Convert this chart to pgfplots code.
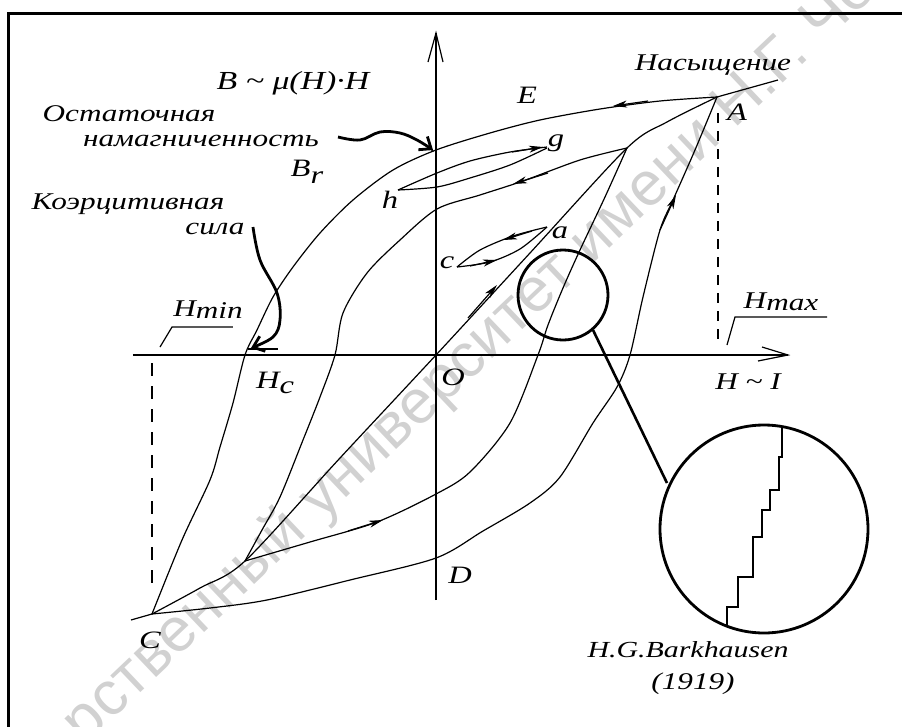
\documentclass[border=0pt]{standalone}
\usepackage{pgfplots}
\pgfplotsset{compat=1.18}
\usepackage{fontspec}
\setmainfont{Liberation Serif}[FakeStretch=1.3]
\newfontfamily\wmfont{Liberation Sans}
\usetikzlibrary{arrows.meta}
\newcommand{\lf}[1]{\fontsize{#1}{#1}\selectfont\itshape}

\begin{document}
\begin{tikzpicture}
\begin{axis}[
  at={(0,0)}, anchor=south west,
  scale only axis, width=902pt, height=727pt,
  xmin=0, xmax=902, ymin=0, ymax=727, y dir=reverse,
  axis lines=none, clip=false,
  curve/.style={black, line width=1.2pt, smooth, tension=0.5, no marks},
  seg/.style={black, line width=1.2pt, no marks},
  fat/.style={black, line width=2.8pt, no marks},
  dir/.style={black, line width=1.2pt, no marks, -{Stealth[length=14pt,width=7pt,inset=4pt]}},
]
% background watermark
\node[rotate=43.5, anchor=base east, inner sep=0pt, text=black!18,
      font=\wmfont\fontsize{62}{62}\selectfont] at (axis cs:110,722) {Саратовский государ};
\node[rotate=43.5, anchor=base west, inner sep=0pt, text=black!18,
      font=\wmfont\fontsize{62}{62}\selectfont] at (axis cs:110,722) {ственный университет имени Н.Г. Чернышевского};

% frame
\addplot[black, line width=3pt, no marks] coordinates {(9,727) (9,13) (902,13)};

% coordinate axes
\addplot[seg, line width=1.5pt] coordinates {(436,600) (436,33)};
\addplot[seg] coordinates {(428,62) (436,33) (443,62)};
\addplot[seg, line width=1.5pt] coordinates {(133,355) (788,355)};
\addplot[seg] coordinates {(762,347) (788,355) (758,361)};

% dashed limits
\addplot[black, line width=1.5pt, dash pattern=on 10pt off 8pt, no marks] coordinates {(718,113) (718,345)};
\addplot[black, line width=1.5pt, dash pattern=on 13pt off 10pt, no marks] coordinates {(152,363) (152,592)};

% major loop, descending branch A -> C
\addplot[curve] coordinates {(717,97) (660,101) (600,109) (540,120) (490,133) (436,150)
  (393,170) (353,200) (320,233) (293,267) (273,297) (257,330) (245,355) (233,403)
  (220,447) (210,480) (182,540) (152,614)};
% major loop, ascending branch C -> A
\addplot[curve] coordinates {(152,614) (210,608) (267,600) (350,580) (436,558) (483,531)
  (530,503) (560,477) (593,423) (617,387) (630,355) (643,297) (660,230) (673,200)
  (695,150) (717,97)};
% saturation tails
\addplot[seg] coordinates {(717,97) (778,80)};
\addplot[seg] coordinates {(152,614) (131,620)};

% minor loop, descending branch
\addplot[curve] coordinates {(627,148) (580,160) (523,181) (480,195) (437,209) (400,240)
  (367,273) (343,313) (335,355) (320,397) (303,440) (280,497) (262,530) (245,561)};
% minor loop, ascending branch
\addplot[curve] coordinates {(245,561) (310,542) (377,522) (436,494) (470,472) (510,423)
  (538,355) (548,325) (563,288) (580,250) (605,197) (627,148)};

% normal magnetization curve through the loop tips
\addplot[curve] coordinates {(152,614) (200,588) (245,561) (340,458) (436,355) (530,253)
  (627,148) (667,122) (717,97)};

% small loops g-h and c-a
\addplot[curve] coordinates {(398,190) (437,173) (470,161) (510,152) (547,147)};
\addplot[curve] coordinates {(398,190) (437,187) (470,178) (510,165) (547,148)};
\addplot[curve] coordinates {(457,267) (480,250) (513,236) (547,227)};
\addplot[curve] coordinates {(457,267) (490,262) (520,249) (547,227)};

% direction arrows
\addplot[dir] coordinates {(648,101) (613,106)};
\addplot[dir] coordinates {(548,173) (513,184)};
\addplot[dir] coordinates {(512,152) (543,147)};
\addplot[dir] coordinates {(532,231) (503,240)};
\addplot[dir] coordinates {(470,266) (497,260)};
\addplot[dir] coordinates {(468,318) (497,285)};
\addplot[dir] coordinates {(660,230) (676,195)};
\addplot[dir] coordinates {(348,531) (383,520)};

% pointer arrows
\addplot[fat, smooth, tension=0.6, -{Straight Barb[length=10pt,width=16pt]}] coordinates
  {(338,137) (360,140) (380,132) (400,133) (417,140) (433,150)};
\addplot[fat, smooth, tension=0.6, -{Straight Barb[length=10pt,width=16pt]}] coordinates
  {(253,227) (260,260) (277,293) (280,320) (273,337) (251,348)};
\addplot[fat] coordinates {(248,349) (278,349)};

% H_min / H_max leaders
\addplot[seg] coordinates {(160,347) (172,327) (233,327)};
\addplot[seg] coordinates {(727,345) (735,317) (827,317)};

% magnifier
\draw[black, line width=2.8pt] (axis cs:563,295) circle [radius=45];
\draw[black, line width=2.8pt] (axis cs:764,529) circle [radius=104];
\addplot[black, line width=2.6pt, no marks] coordinates {(593,330) (667,483)};
% Barkhausen steps
\addplot[black, line width=2.6pt, no marks] coordinates {(727,627) (727,607) (738,607)
  (738,577) (753,577) (753,537) (762,537) (762,510) (770,510) (770,490) (779,490)
  (779,457) (782,457) (782,426)};

% labels
\node[font=\lf{26}] at (axis cs:293,83) {B \textasciitilde\ μ(H)·H};
\node[font=\lf{24}] at (axis cs:129,114) {Остаточная};
\node[font=\lf{24}] at (axis cs:201,141) {намагниченность};
\node[font=\lf{24}] at (axis cs:128,204) {Коэрцитивная};
\node[font=\lf{24}] at (axis cs:215,229) {сила};
\node[font=\lf{24}] at (axis cs:713,65) {Насыщение};
\node[font=\lf{25}] at (axis cs:307,172) {B\raisebox{-7pt}{r}};
\node[font=\lf{25}] at (axis cs:527,95) {E};
\node[font=\lf{25}] at (axis cs:737,112) {A};
\node[font=\lf{25}] at (axis cs:556,143) {g};
\node[font=\lf{25}] at (axis cs:390,200) {h};
\node[font=\lf{25}] at (axis cs:560,233) {a};
\node[font=\lf{25}] at (axis cs:447,263) {c};
\node[font=\lf{24}] at (axis cs:208,310) {H\raisebox{-2pt}{min}};
\node[font=\lf{24}] at (axis cs:781,302) {H\raisebox{-2pt}{max}};
\node[font=\lf{25}] at (axis cs:275,383) {H\raisebox{-5pt}{c}};
\node[font=\lf{25}] at (axis cs:453,377) {O};
\node[font=\lf{24}] at (axis cs:748,382) {H \textasciitilde\ I};
\node[font=\lf{25}] at (axis cs:460,575) {D};
\node[font=\lf{25}] at (axis cs:150,640) {C};
\node[font=\lf{23}] at (axis cs:688,650) {H.G.Barkhausen};
\node[font=\lf{24}] at (axis cs:693,684) {(1919)};
\end{axis}
\pgfresetboundingbox
\path (0,0) rectangle (902pt,727pt);
\end{tikzpicture}
\end{document}
